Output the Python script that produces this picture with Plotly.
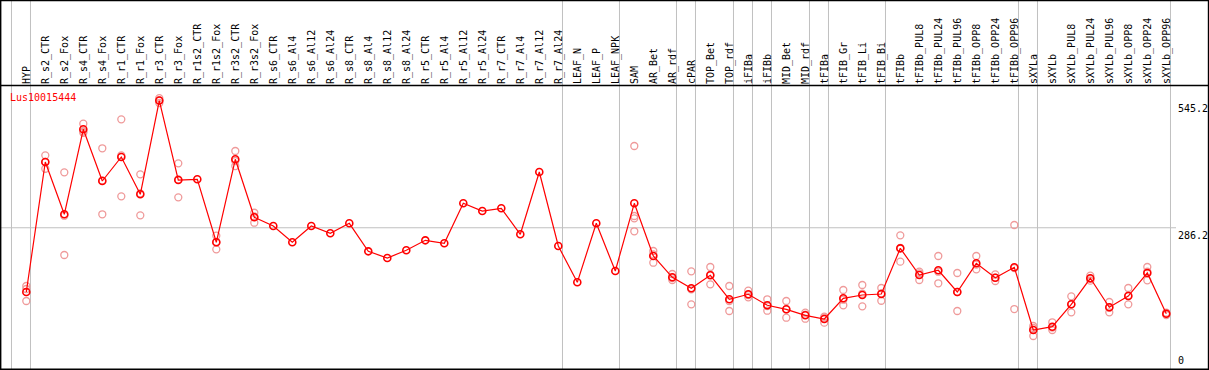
import plotly.graph_objects as go

categories = ["HYP", "R_s2_CTR", "R_s2_Fox", "R_s4_CTR", "R_s4_Fox", "R_r1_CTR", "R_r1_Fox",
              "R_r3_CTR", "R_r3_Fox", "R_r1s2_CTR", "R_r1s2_Fox", "R_r3s2_CTR", "R_r3s2_Fox",
              "R_s6_CTR", "R_s6_Al4", "R_s6_Al12", "R_s6_Al24", "R_s8_CTR", "R_s8_Al4",
              "R_s8_Al12", "R_s8_Al24", "R_r5_CTR", "R_r5_Al4", "R_r5_Al12", "R_r5_Al24",
              "R_r7_CTR", "R_r7_Al4", "R_r7_Al12", "R_r7_Al24", "LEAF_N", "LEAF_P", "LEAF_NPK",
              "SAM", "AR_Bet", "AR_rdf", "cPAR", "TOP_Bet", "TOP_rdf", "iFIBa", "iFIBb",
              "MID_Bet", "MID_rdf", "tFIBa", "tFIB_Gr", "tFIB_Li", "tFIB_Bi", "tFIBb",
              "tFIBb_PUL8", "tFIBb_PUL24", "tFIBb_PUL96", "tFIBb_OPP8", "tFIBb_OPP24",
              "tFIBb_OPP96", "sXYLa", "sXYLb", "sXYLb_PUL8", "sXYLb_PUL24", "sXYLb_PUL96",
              "sXYLb_OPP8", "sXYLb_OPP24", "sXYLb_OPP96"]

mean_values = [155.4, 420.1, 313.6, 486.7, 381.4, 430.3, 354.3, 545.2, 383.4, 384.9,
               256.6, 425.6, 307.5, 289.8, 256.6, 289.8, 274.9, 295.3, 238.2, 224.6,
               240.3, 260.6, 254.5, 336.0, 320.3, 325.8, 272.9, 399.7, 249.0, 175.1,
               295.3, 198.1, 336.0, 228.7, 185.3, 162.9, 189.4, 140.5, 150.7, 128.3,
               120.1, 107.9, 100.4, 142.5, 149.3, 151.3, 244.3, 190.0, 199.6, 155.4,
               213.8, 184.5, 205.7, 78.0, 84.7, 130.3, 183.3, 124.2, 147.2, 194.1, 111.2]

replicate_values = [
    [167.6, 161.5, 137.0], [433.7, 406.4, 420.1], [399.1, 230.7, 310.7],
    [498.1, 482.2, 479.7], [448.0, 313.6, 382.6], [507.0, 350.2, 433.5],
    [395.0, 311.5, 356.3], [550.3, 545.3, 540.2], [417.4, 348.2, 384.6],
    [], [270.0, 242.3, 257.2], [442.5, 411.9, 422.1], [316.8, 296.5, 309.1],
    [], [], [], [], [], [], [], [], [], [], [], [], [], [], [], [], [], [], [],
    [452.7, 310.1, 305.4, 279.0], [238.9, 215.0, 232.1], [192.0, 183.9, 179.8],
    [197.5, 130.3, 160.9], [206.3, 171.0, 190.8], [167.6, 116.7, 137.0],
    [158.0, 144.6, 149.3], [140.5, 117.3, 126.9], [137.0, 103.0, 120.1],
    [113.2, 101.0, 109.1], [92.9, 103.0, 105.1], [159.4, 128.3, 139.7],
    [169.6, 126.2, 151.9], [163.5, 137.6, 152.7], [270.8, 217.1, 245.0],
    [196.7, 179.8, 193.4], [228.7, 173.1, 196.7], [194.1, 116.7, 155.4],
    [228.7, 201.6, 211.0], [191.4, 177.8, 184.5], [291.8, 120.7, 204.2],
    [86.1, 65.8, 82.1], [93.7, 78.0, 82.7], [146.6, 114.0, 130.3],
    [188.6, 178.4, 182.4], [135.0, 114.0, 123.4], [163.5, 130.3, 147.8],
    [206.3, 179.2, 196.7], [113.2, 108.5, 112.0],
]

# index of the last category of each group (separators drawn after them)
group_ends = [-1, 0, 28, 31, 34, 35, 37, 38, 39, 41, 42, 45, 52, 53, 60]

y_tick_values = [545.2, 286.2, 0]
y_tick_labels = ["545.2", "286.2", "0"]
reference_line = 286.2
gene_name = "Lus10015444"

FONT = "DejaVu Sans Mono"
W, H = 1209, 370
ML, MR, MT, MB = 1, 33, 85, 1
PW = W - ML - MR
PH = H - MT - MB

x_idx = list(range(len(categories)))
rep_x, rep_y = [], []
for i, reps in enumerate(replicate_values):
    for v in reps:
        rep_x.append(i)
        rep_y.append(v)

fig = go.Figure()
fig.add_trace(go.Scatter(
    x=rep_x, y=rep_y, mode="markers",
    marker=dict(symbol="circle-open", size=7, color="#ef9a9a", line=dict(width=1.3, color="#ef9a9a")),
    hoverinfo="skip", showlegend=False, cliponaxis=False))
fig.add_trace(go.Scatter(
    x=x_idx, y=mean_values, mode="lines+markers",
    line=dict(color="#ff0000", width=1.2),
    marker=dict(symbol="circle-open", size=7, color="#ff0000", line=dict(width=1.6, color="#ff0000")),
    showlegend=False, cliponaxis=False))

shapes = []
px_per_x = 19.0
x0_px = 26.3
xr0 = (ML - x0_px) / px_per_x
xr1 = (ML + PW - x0_px) / px_per_x
top_paper = (MT + PH) / PH  # paper y at image top

for g in group_ends:
    shapes.append(dict(type="line", xref="x", yref="paper", x0=g + 0.22, x1=g + 0.22,
                       y0=0, y1=top_paper, line=dict(color="#c0c0c0", width=1), layer="below"))
shapes.append(dict(type="line", xref="paper", yref="y", x0=0, x1=1,
                   y0=reference_line, y1=reference_line,
                   line=dict(color="#c0c0c0", width=1), layer="below"))

def px2px(px):
    return (px - ML) / PW

def py2py(py):
    return (MT + PH - py) / PH

# outer frame and header separator
black = dict(color="#000000", width=1.4)
shapes += [
    dict(type="line", xref="paper", yref="paper", x0=px2px(0), x1=px2px(W), y0=py2py(0.5), y1=py2py(0.5), line=black),
    dict(type="line", xref="paper", yref="paper", x0=px2px(0), x1=px2px(W), y0=py2py(369.3), y1=py2py(369.3), line=black),
    dict(type="line", xref="paper", yref="paper", x0=px2px(0.7), x1=px2px(0.7), y0=py2py(0), y1=py2py(H), line=black),
    dict(type="line", xref="paper", yref="paper", x0=px2px(1208.5), x1=px2px(1208.5), y0=py2py(0), y1=py2py(H), line=black),
    dict(type="line", xref="paper", yref="paper", x0=px2px(0), x1=px2px(W), y0=py2py(85.5), y1=py2py(85.5), line=black),
]

annotations = [dict(text=gene_name, xref="paper", yref="paper", x=px2px(8), y=py2py(97.3),
                    xanchor="left", yanchor="middle", showarrow=False,
                    font=dict(family=FONT, size=10, color="#ff0000"))]
for v, t in zip(y_tick_values, y_tick_labels):
    annotations.append(dict(text=t, xref="paper", yref="y", x=px2px(1176), y=v,
                            xanchor="left", yanchor="top" if v > 0 else "bottom",
                            showarrow=False, font=dict(family=FONT, size=10, color="#000000")))

fig.update_layout(
    width=W, height=H,
    margin=dict(l=ML, r=MR, t=MT, b=MB, pad=0),
    paper_bgcolor="white", plot_bgcolor="white",
    showlegend=False,
    shapes=shapes, annotations=annotations,
    xaxis=dict(range=[xr0, xr1], side="top", tickmode="array", tickvals=x_idx, ticktext=categories,
               tickangle=-90, tickfont=dict(family=FONT, size=10, color="#000000"),
               showgrid=False, zeroline=False, showline=False, ticks="", automargin=False,
               fixedrange=True),
    yaxis=dict(range=[-1.43, 576.9], showticklabels=False, showgrid=False, zeroline=False,
               showline=False, ticks="", automargin=False, fixedrange=True),
)

fig.write_html("out.html", config={"displayModeBar": False},
               post_script="document.body.style.margin='0';document.body.style.overflow='hidden';")
